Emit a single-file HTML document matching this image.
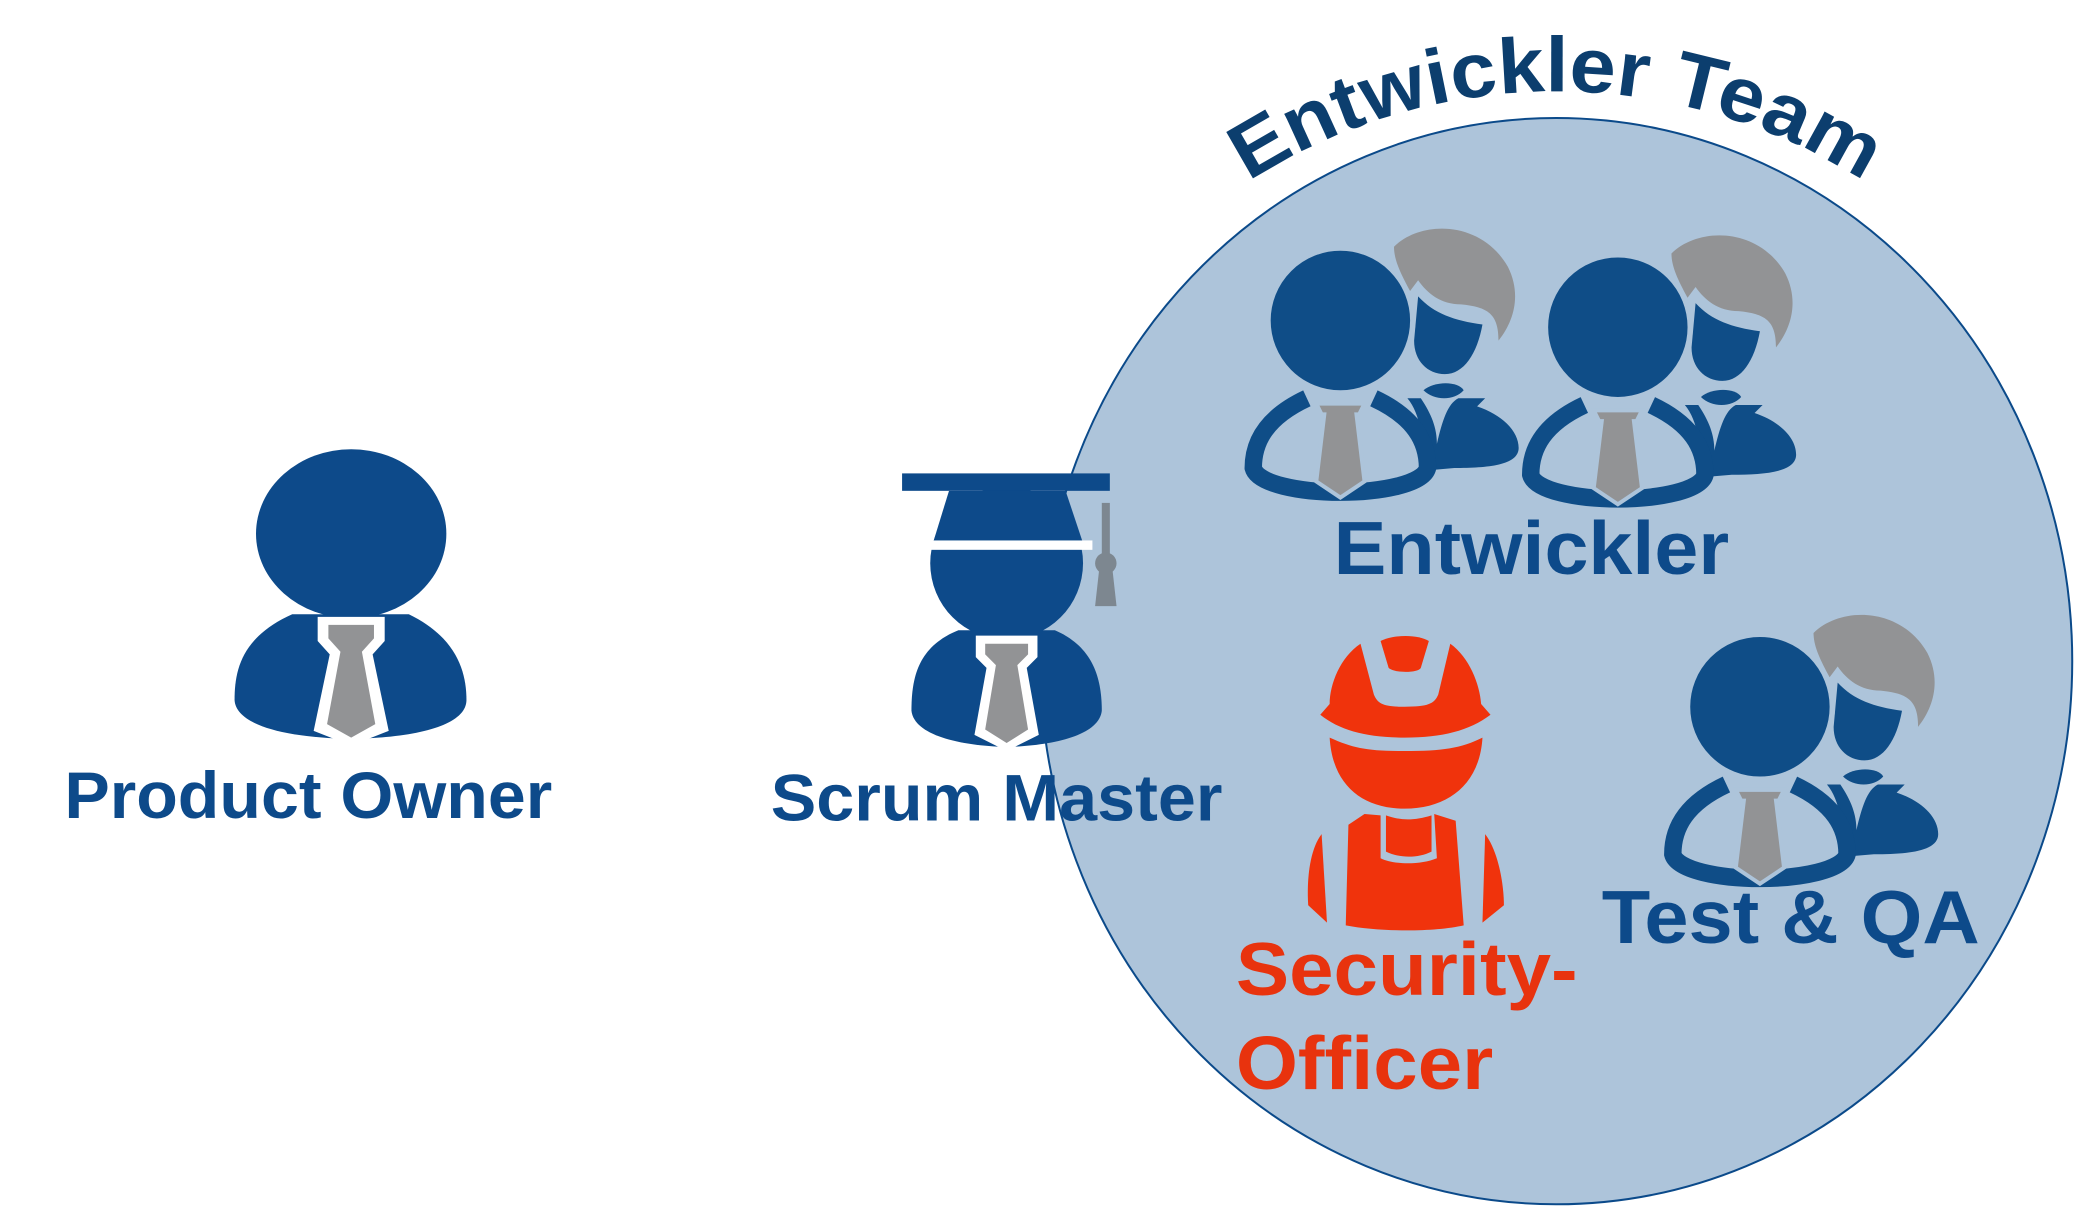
<!DOCTYPE html>
<html><head><meta charset="utf-8"><style>
html,body{margin:0;padding:0;background:#fff;}
svg{display:block;}
text{font-family:"Liberation Sans",Arial,sans-serif;font-weight:bold;}
</style></head><body>
<svg width="2091" height="1215" viewBox="0 0 1560 906" preserveAspectRatio="none" xmlns="http://www.w3.org/2000/svg">
<defs>
<path id="arc" d="M 736 493 A 425 425 0 0 1 1586 493"/>
<g id="team">
  <path d="M 40 -55 C 60 -75 105 -75 125 -40 C 135 -20 130 0 118 15 C 118 -5 110 -10 90 -12 C 75 -12 65 -20 58 -30 L 52 -22 C 45 -35 40 -45 40 -55 Z" fill="#929395"/>
  <path d="M 58 -18 C 70 -5 85 0 106 3 C 102 25 92 40 78 40 C 65 40 55 30 55 15 Z" fill="#0f4d87"/>
  <path d="M 62 52 C 70 60 85 60 92 52 C 88 45 70 45 62 52 Z" fill="#0f4d87"/>
  <path d="M 50 58 L 60 58 C 68 70 72 80 72 92 C 76 75 80 62 88 58 L 108 58 L 102 64 C 120 70 133 82 133 95 C 133 108 110 110 85 110 L 62 112 C 62 90 60 70 50 58 Z" fill="#0f4d87"/>
  <circle cx="0" cy="0" r="54" fill="#0f4d87" stroke="#adc4da" stroke-width="4"/>
  <path d="M -25 58 C -55 72 -65 90 -65 110 C -62 122 -30 128 0 128 C 30 128 62 122 65 110 C 65 90 55 72 25 58" fill="none" stroke="#0f4d87" stroke-width="13"/>
  <path d="M -18 62 L 18 62 L 14 70 L 12 70 L 18 120 L 0 132 L -18 120 L -12 70 L -14 70 Z" fill="#929395" stroke="#adc4da" stroke-width="3"/>
</g>
</defs>
<ellipse cx="1161" cy="493" rx="385" ry="405" fill="#adc4da" stroke="#0b4a8a" stroke-width="1.5"/>
<text font-size="58" fill="#0c3e6e"><textPath href="#arc" startOffset="50%" text-anchor="middle" textLength="485" lengthAdjust="spacingAndGlyphs">Entwickler Team</textPath></text>

<ellipse cx="262" cy="398" rx="71" ry="63" fill="#0d4a8a"/>
<path d="M 218 458 C 180 475 175 500 175 522 C 176 540 210 550 262 551 C 314 550 348 540 348 522 C 348 500 340 475 305 458 Z" fill="#0d4a8a"/>
<path d="M 237 460 L 287 460 L 287 478 L 278 488 L 290 545 L 262 556 L 234 545 L 246 488 L 237 478 Z" fill="#fff"/>
<path d="M 245 466 L 279 466 L 279 476 L 270 486 L 280 540 L 262 550 L 244 540 L 254 486 L 245 476 Z" fill="#929395"/>
<text x="48" y="610" font-size="49" fill="#0d4a8a" textLength="364" lengthAdjust="spacingAndGlyphs">Product Owner</text>

<circle cx="751" cy="420" r="57" fill="#0d4a8a"/>
<rect x="673" y="353" width="155" height="13" fill="#0d4a8a"/>
<path d="M 708 366 L 795 366 L 808 405 L 696 405 Z" fill="#0d4a8a"/>
<rect x="690" y="403" width="125" height="7" fill="#fff"/>
<rect x="822" y="375" width="6" height="40" fill="#7d8790"/>
<circle cx="825" cy="420" r="8" fill="#7d8790"/>
<path d="M 820 425 L 830 425 L 833 452 L 817 452 Z" fill="#7d8790"/>
<path d="M 715 470 C 685 482 680 505 680 530 C 682 548 715 556 751 557 C 787 556 820 548 822 530 C 822 505 815 482 787 470 Z" fill="#0d4a8a"/>
<path d="M 728 474 L 774 474 L 774 490 L 766 498 L 775 548 L 751 560 L 727 548 L 736 498 L 728 490 Z" fill="#fff"/>
<path d="M 735 480 L 767 480 L 767 488 L 759 496 L 767 544 L 751 554 L 735 544 L 743 496 L 735 488 Z" fill="#929395"/>
<text x="575" y="612" font-size="49" fill="#0d4a8a" textLength="337" lengthAdjust="spacingAndGlyphs">Scrum Master</text>

<use href="#team" x="1000" y="239"/>
<use href="#team" x="1207" y="244"/>
<use href="#team" x="1313" y="527"/>
<text x="995" y="428" font-size="56" fill="#0d4a8a" textLength="295" lengthAdjust="spacingAndGlyphs">Entwickler</text>
<text x="1195" y="703" font-size="56" fill="#0d4a8a" textLength="282" lengthAdjust="spacingAndGlyphs">Test &amp; QA</text>

<g fill="#f0330c">
  <path d="M 1015 480 C 1000 490 992 510 992 525 L 985 533 C 1000 545 1020 550 1048 550 C 1076 550 1096 545 1112 533 L 1105 525 C 1104 510 1096 490 1082 480 L 1073 518 C 1070 525 1065 527 1048 527 C 1032 527 1028 525 1025 518 Z"/>
  <path d="M 1030 478 C 1040 473 1058 473 1066 478 L 1060 498 C 1058 502 1040 502 1036 498 Z"/>
  <path d="M 992 550 C 1010 558 1020 560 1048 560 C 1076 560 1090 558 1106 550 C 1104 585 1080 603 1048 603 C 1016 603 994 585 992 550 Z"/>
  <path d="M 1018 607 L 1030 608 L 1030 640 C 1040 645 1060 645 1072 640 L 1070 607 L 1086 612 L 1092 690 C 1070 695 1030 695 1004 690 L 1006 615 Z"/>
  <path d="M 1034 608 C 1045 612 1055 612 1068 608 L 1068 635 C 1058 640 1044 640 1034 635 Z"/>
  <path d="M 986 622 C 976 635 975 660 976 675 L 990 688 Z"/>
  <path d="M 1108 622 C 1118 635 1122 660 1122 675 L 1106 688 Z"/>
</g>
<text x="922" y="742" font-size="56" fill="#e8330e" textLength="255" lengthAdjust="spacingAndGlyphs">Security-</text>
<text x="922" y="812" font-size="56" fill="#e8330e" textLength="192" lengthAdjust="spacingAndGlyphs">Officer</text>
</svg>
</body></html>
